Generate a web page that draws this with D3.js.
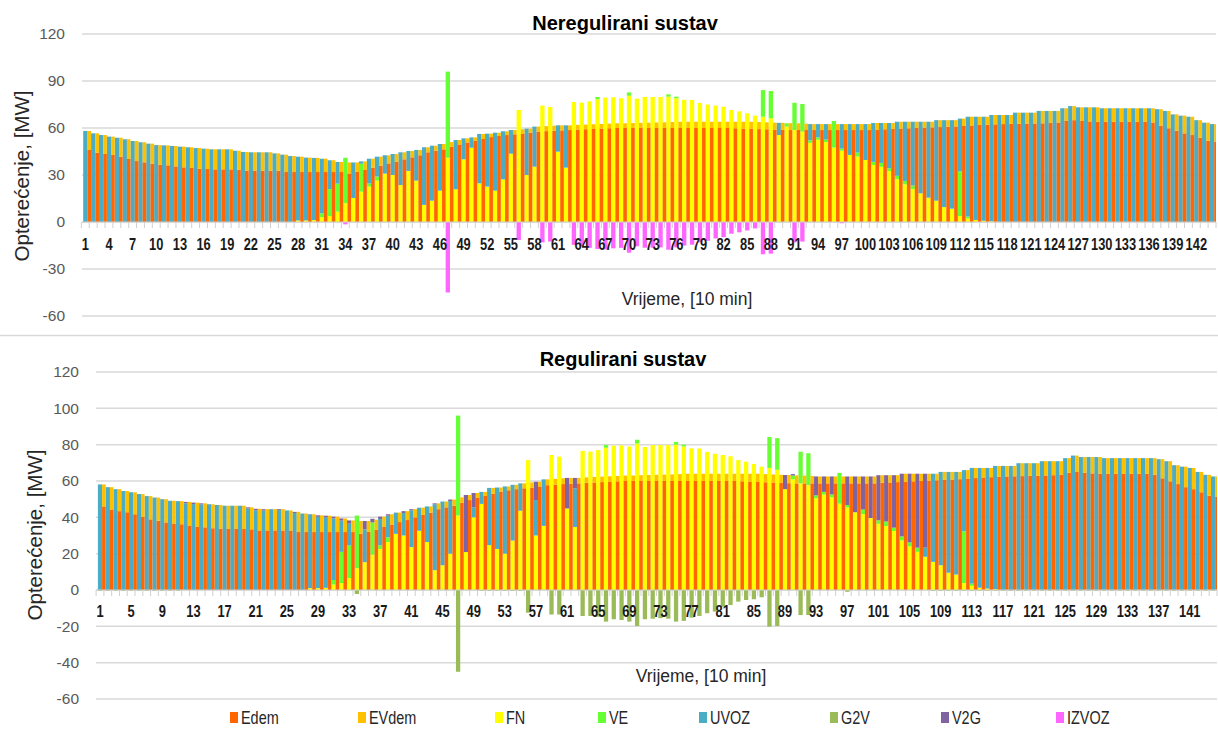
<!DOCTYPE html>
<html><head><meta charset="utf-8">
<script src="https://cdn.jsdelivr.net/npm/d3@7"></script>
<style>body{margin:0;background:#fff}svg{display:block}</style>
</head><body>
<svg id="c" width="1218" height="731"></svg>
<script>
const categories = d3.range(1, 145);
const topTickLabels = [1,4,7,10,13,16,19,22,25,28,31,34,37,40,43,46,49,52,55,58,61,64,67,70,73,76,79,82,85,88,91,94,97,100,103,106,109,112,115,118,121,124,127,130,133,136,139,142];
const botTickLabels = [1,5,9,13,17,21,25,29,33,37,41,45,49,53,57,61,65,69,73,77,81,85,89,93,97,101,105,109,113,117,121,125,129,133,137,141];
const topYTicks = [-60,-30,0,30,60,90,120];
const botYTicks = [-60,-40,-20,0,20,40,60,80,100,120];

const Edem = [46,44.3,43.4,42.8,41.7,40.2,38.9,38.1,37.2,36.6,
 36.2,35.5,34.9,34.5,34,33.8,33.6,33.6,33.6,33.4,
 32.8,32.8,32.8,32.8,32.8,31.9,31.9,31.9,31.9,31.9,
 31.9,31.9,31.9,31,32,33.2,34.7,36,37.4,38.5,
 40,41.3,42.6,44.5,45.5,46.4,48,49.5,50.8,51.8,
 53,54.2,54.9,55.5,56,56.2,57,57.7,58,58.3,
 58.5,58.7,59,59.2,59.4,59.6,59.8,60,60,60,
 60,60,60,60,60,60,60,60,60,60,
 60,60,59.8,59.6,59.5,59.3,59.2,59,58.8,58.7,
 58.7,58.7,58.7,58.7,58.7,58.7,58.7,58.7,58.7,58.7,
 59,59.2,59.4,59.6,59.8,60,60.2,60.4,60.6,60.8,
 61,61.3,61.6,61.9,62.1,62.3,62.5,62.6,62.7,62.8,
 62.9,63,63.2,63.5,64.5,65,64.5,64.2,64,64,
 64,64,64,64,64,63.5,61.5,59.8,58.3,56.6,
 55.5,53.8,51.9,51.3];
const EVdem = [12.1,12.3,12.1,11.7,12.1,12.6,12.8,12.8,12.8,12.5,
 12.7,13,13.2,13.2,13.2,13,12.8,12.8,12.8,12.1,
 11.9,11.7,11.7,11.7,11,11.1,10.2,9.8,9.2,9,
 8.5,7.5,6.4,7,6,5.5,5.7,5.7,5.2,4.9,
 4.5,4,3.4,3.2,3.2,3.4,3,2.8,2.6,2.2,
 3.2,2.2,2.1,2.4,2.7,3,2.6,3.2,3.2,3.2,
 3.2,3,3,3,3,3,3,3,3,3.2,
 3.3,3.4,3.5,3.6,3.8,4,4,4,4,4,
 4,4,4.2,4.4,4.5,4.5,4.4,4.4,4.5,4.4,
 4.3,4.1,3.8,3.8,3.8,3.8,3.8,3.8,3.8,3.8,
 4.2,4,3.8,4.4,4.2,4,3.8,3.6,4.4,4.2,
 4,4.7,5.6,5.3,5.1,6,5.8,5.7,7.1,7,
 6.9,7.9,7.7,7.4,8.1,9,8.7,9,9.2,8.6,
 8.6,8.6,8.6,8.6,8.6,9.1,10.5,11.1,10.4,11.3,
 11.7,11.2,11.5,11.2];
const FN = [0,0,0,0,0,0,0,0,0,0,
 0,0,0,0,0,0,0,0,0,0,
 0,0,0,0,0,0,0,1,1,1.2,
 3,3.8,6.6,12,15.3,19.4,22.6,26.4,30.9,30,
 23.6,32.6,26.4,10.9,13.6,20,41,20.9,40,47.4,
 24.7,22.6,20,27.2,43.6,71.5,30,35.3,74.3,73.4,
 44.9,34.7,76.6,76.2,77,78.3,79.4,79.6,79,80.6,
 78.7,79.8,79.8,79.8,80,79,78,77.9,76,75,
 74.3,73.6,71.5,70.6,69.4,67.9,67.2,66.2,55.5,60.9,
 58.7,57.7,50.5,52.5,51,47.5,45.5,42.8,41.8,39.6,
 36.4,35.2,32.5,27.3,24,21,18.3,15.5,13.6,9.5,
 8.5,3.8,2.3,1.3,0.8,0.5,0,0,0,0,
 0,0,0,0,0,0,0,0,0,0,
 0,0,0,0,0,0,0,0,0,0,
 0,0,0,0];
const VE = [0,0,0,0,0,0,0,0,0,0,
 0,0,0,0,0,0,0,0,0,0,
 0,0,0,0,0,0,0,0,0,0,
 2.5,17.2,17.9,29,0,17.8,2,2.6,0,0,
 0,0,0,0,0,0,55,0,0,0,
 0,0,0,0,0,0,0,0,0,0,
 0,0,0,0,0,1.5,0,0,0,2.1,
 0,0,0,0,1.5,1,0,0,0,0,
 0,0,0,0,0,0,17,17.4,0,2.1,
 17.4,17.6,1.6,1.5,1.6,17,1.3,0,2.5,0,
 2,2.5,1.8,2.2,2.2,2.3,0,0,0,0,
 0,28.5,1.2,0,0,0,0,0,0,0,
 0,0,0,0,0,0,0,0,0,0,
 0,0,0,0,0,0,0,0,0,0,
 0,0,0,0];
const UVOZ_nereg = [58.1,56.6,55.5,54.5,53.8,52.8,51.7,50.9,50,49.1,
 48.9,48.5,48.1,47.7,47.2,46.8,46.4,46.4,46.4,45.5,
 44.7,44.5,44.5,44.5,43.8,43,42.1,40.7,40.1,39.7,
 34.9,18.4,13.8,0,22.7,1.5,15.8,12.7,11.7,13.4,
 20.9,12.7,19.6,36.8,35.1,29.8,0,31.4,13.4,6.6,
 31.5,33.8,37,30.7,15.1,0,29.6,25.6,0,0,
 16.8,27,0,0,0,0,0,0,0,0,
 0,0,0,0,0,0,0,0,0,0,
 0,0,0,0,0,0,0,0,7.8,0,
 0,0,10.4,8.5,9.9,0,15.7,19.7,18.2,22.9,
 24.8,25.5,28.9,34.5,37.8,40.7,45.7,48.5,51.4,55.5,
 56.5,33.7,63.7,65.9,66.4,67.8,68.3,68.3,69.8,69.8,
 69.8,70.9,70.9,70.9,72.6,74,73.2,73.2,73.2,72.6,
 72.6,72.6,72.6,72.6,72.6,72.6,72,70.9,68.7,67.9,
 67.2,65,63.4,62.5];
const IZVOZ_nereg = [0,0,0,0,0,0,0,0,0,0,
 0,0,0,0,0,0,0,0,0,0,
 0,0,0,0,0,0,0,0,0,0,
 0,0,0,-1.5,0,0,0,0,0,0,
 0,0,0,0,0,0,-45,0,0,0,
 0,0,0,0,0,-11.5,0,0,-13,-12.5,
 0,0,-14.6,-15.5,-16.5,-17.2,-17.5,-16.8,-16.5,-19.6,
 -15.5,-16.4,-16.4,-16.2,-17.7,-16.2,-15,-14.5,-13,-12,
 -10.5,-9.7,-7.5,-6.6,-5.4,-4.1,-20.6,-20.2,0,0,
 -13,-12.5,0,0,0,0,-0.8,0,0,0,
 0,0,0,0,0,0,0,0,0,0,
 0,0,0,0,0,0,0,0,0,0,
 0,0,0,0,0,0,0,0,0,0,
 0,0,0,0,0,0,0,0,0,0,
 0,0,0,0];
const UVOZ_reg = [58.1,56.6,55.5,54.5,53.8,52.8,51.7,50.9,50,49.1,
 48.9,47.7,47.3,47.1,47.2,46.8,46.4,46.4,46.4,44.9,
 43.9,43.7,44.5,44,43.8,42.4,42.1,40.7,39.3,38.9,
 33.9,17.2,12,0,18.1,0,14.5,11.9,11.7,12.4,
 20.3,12.7,19.6,36.3,35.1,29,0,0,5.6,6.6,
 31.5,33.8,37,30.7,15.1,0,19.5,25.6,0,0,
 0,21.3,0,0,0,0,0,0,0,0,
 0,0,0,0,0,0,0,0,0,0,
 0,0,0,0,0,0,0,0,0,0,
 0,0,0,0,0,0,0,0,0,0,
 0,0,0,0,0,0,5,48.5,51.4,55.5,
 56.5,33.7,63.7,65.9,66.4,67.8,68.3,68.3,69.8,69.8,
 69.8,70.9,70.9,70.9,72.6,74,73.2,73.2,73.2,72.6,
 72.6,72.6,72.6,72.6,72.6,72.6,72,70.9,68.7,67.9,
 67.2,65,63.4,62.5];
const V2G_reg = [0,0,0,0,0,0,0,0,0,0,
 0,0.8,0.8,0.6,0,0,0,0,0,0.6,
 0.8,0.8,0,0.5,0,0.6,0,0,0.8,0.8,
 1,1.2,1.8,0,4.6,2,1.3,0.8,0,1,
 0.6,0,0,0.5,0,0.8,0,31.4,7.8,0,
 0,0,0,0,0,0,10.1,0,0,0,
 16.8,5.7,0,0,0,0,0,0,0,0,
 0,0,0,0,0,0,0,0,0,0,
 0,0,0,0,0,0,0,0,7.8,0.8,
 0,0,10.4,8.5,9.9,0,15.7,19.7,18.2,22.9,
 24.8,25.5,28.9,34.5,37.8,40.7,40.7,0,0,0,
 0,0,0,0,0,0,0,0,0,0,
 0,0,0,0,0,0,0,0,0,0,
 0,0,0,0,0,0,0,0,0,0,
 0,0,0,0];
const G2V_reg = [-0.4,-0.4,-0.4,-0.4,-0.4,-0.4,-0.4,-0.4,-0.4,-0.4,
 -0.4,0,0,0,0,0,0,0,0,0,
 0,0,0,0,0,0,0,0,0,0,
 0,0,0,-2.2,0,0,0,0,0,0,
 0,0,0,0,0,0,-45,0,0,-0.4,
 -0.4,-0.4,-0.4,-0.4,-0.4,-12.5,0,0,-13.5,-13.5,
 0,0,-14.3,-14.3,-14.7,-17.4,-16.1,-16.5,-17.4,-19.8,
 -16.1,-15.8,-15.5,-15.8,-17.4,-17,-15.2,-14.3,-12.8,-11.9,
 -9.2,-8.3,-6.4,-5.5,-5.1,-4,-20.2,-19.8,0,0,
 -13.8,-13.8,0,0,0,0,-1,0,0,0,
 0,0,0,0,0,0,0,-0.4,-0.4,-0.4,
 -0.4,-0.4,-0.4,-0.4,-0.4,-0.4,-0.4,-0.4,-0.4,-0.4,
 -0.4,-0.4,-0.4,-0.4,-0.4,-0.4,-0.4,-0.4,-0.4,-0.4,
 -0.4,-0.4,-0.4,-0.4,-0.4,-0.4,-0.4,-0.4,-0.4,-0.4,
 -0.4,-0.4,-0.4,-0.4];

const seriesNames = ["Edem","EVdem","FN","VE","UVOZ","G2V","V2G","IZVOZ"];
const colors = {Edem:"#FF6600",EVdem:"#FFC000",FN:"#FFFF00",VE:"#66FF33",UVOZ:"#4BACC6",G2V:"#9BBB59",V2G:"#8064A2",IZVOZ:"#FF66FF"};

const svg = d3.select("#c");
const FONT = "'Liberation Sans', Arial, sans-serif";

svg.append("line").attr("x1",0).attr("x2",1218).attr("y1",335.5).attr("y2",335.5).attr("stroke","#d9d9d9").attr("stroke-width",1.5);

function panel(cfg, idx) {
  const g = svg.append("g");
  const x = d3.scaleBand().domain(categories).range([cfg.x0, cfg.x1]).padding(0);
  const y = d3.scaleLinear().domain([-60,120]).range([cfg.yB, cfg.yT]);
  const bw = x.bandwidth();

  g.selectAll("line.grid").data(cfg.yTicks).join("line")
    .attr("x1", cfg.gx0).attr("x2", cfg.x1).attr("y1", d=>y(d)).attr("y2", d=>y(d))
    .attr("stroke","#d9d9d9").attr("stroke-width",1.5);
  g.selectAll("text.yt").data(cfg.yTicks).join("text")
    .attr("x", cfg.labelX).attr("y", d=>y(d)).attr("dy","0.35em")
    .attr("text-anchor","end").attr("font-family",FONT).attr("font-size",15.5)
    .attr("fill","#595959").text(d=>d);

  const clipId = "clip"+idx;
  g.append("clipPath").attr("id",clipId).append("rect")
    .attr("x",cfg.x0).attr("y",0).attr("width",cfg.x1-cfg.x0).attr("height",731);
  const bars = g.append("g").attr("clip-path",`url(#${clipId})`);

  const rows = categories.map((c,i)=>({cat:c, FN:FN[i], VE:VE[i], UVOZ:cfg.uvoz[i],
     V2G: cfg.v2g ? cfg.v2g[i] : 0, NEG: cfg.neg[i], Edem:Edem[i], EVdem:cfg.evdem[i]}));
  const supplyKeys = cfg.v2g ? ["FN","VE","UVOZ","V2G"] : ["FN","VE","UVOZ"];
  const supply = d3.stack().keys(supplyKeys)(rows);
  const demand = d3.stack().keys(["Edem","EVdem"])(rows);

  supply.forEach(s=>{
    bars.append("g").attr("fill",colors[s.key]).selectAll("rect").data(s).join("rect")
      .attr("x", d=>x(d.data.cat)+bw*0.23).attr("width", bw*0.55)
      .attr("y", d=>y(d[1])).attr("height", d=>Math.max(0,y(d[0])-y(d[1])));
  });
  bars.append("g").attr("fill",colors[cfg.negKey]).selectAll("rect").data(rows).join("rect")
    .attr("x", d=>x(d.cat)+bw*0.23).attr("width", bw*0.55)
    .attr("y", y(0)).attr("height", d=>Math.max(0,y(d.NEG)-y(0)));
  demand.forEach(s=>{
    bars.append("g").attr("fill",colors[s.key]).selectAll("rect").data(s).join("rect")
      .attr("x", d=>x(d.data.cat)+bw*0.77).attr("width", bw*0.46)
      .attr("y", d=>y(d[1])).attr("height", d=>Math.max(0,y(d[0])-y(d[1])));
  });

  const y0 = y(0);
  g.append("line").attr("x1",cfg.gx0).attr("x2",cfg.x1).attr("y1",y0).attr("y2",y0)
    .attr("stroke","#d0d0d0").attr("stroke-width",1.2);
  g.selectAll("line.tk").data(categories.concat([145])).join("line")
    .attr("x1", d=> d===145 ? cfg.x1 : x(d)).attr("x2", d=> d===145 ? cfg.x1 : x(d))
    .attr("y1", y0).attr("y2", y0+6).attr("stroke","#d0d0d0").attr("stroke-width",1);
  g.selectAll("text.xt").data(cfg.xLabels).join("text")
    .attr("transform", d=>`translate(${x(d)+bw/2},${cfg.xLabelY}) scale(0.78,1)`)
    .attr("dy","0.35em")
    .attr("text-anchor","middle").attr("font-family",FONT).attr("font-weight","bold")
    .attr("font-size",16.5).attr("fill","#1a1a1a").text(d=>d);

  g.append("text").attr("x",cfg.titleX).attr("y",cfg.titleY).attr("dy","0.35em")
    .attr("text-anchor","middle").attr("font-family",FONT).attr("font-weight","bold")
    .attr("font-size",20).attr("fill","#000").text(cfg.title);
  g.append("text").attr("x",cfg.xtX).attr("y",cfg.xtY).attr("dy","0.35em")
    .attr("text-anchor","middle").attr("font-family",FONT).attr("font-size",17.5)
    .attr("fill","#262626").text("Vrijeme, [10 min]");
  g.append("text").attr("transform",`translate(${cfg.ytX},${cfg.ytY}) rotate(-90)`)
    .attr("dy","0.35em").attr("text-anchor","middle").attr("font-family",FONT)
    .attr("font-size",20.5).attr("fill","#262626").text("Opterećenje, [MW]");
}

panel({x0:81.4, x1:1216, gx0:82, yT:34, yB:316, yTicks:topYTicks, labelX:65,
  xLabels:topTickLabels, xLabelY:244, uvoz:UVOZ_nereg, v2g:null, neg:IZVOZ_nereg, negKey:"IZVOZ",
  evdem:EVdem, title:"Neregulirani sustav", titleX:625, titleY:23, xtX:687, xtY:299, ytX:21.5, ytY:176}, 0);
panel({x0:96.1, x1:1217, gx0:96, yT:372, yB:699, yTicks:botYTicks, labelX:79,
  xLabels:botTickLabels, xLabelY:611, uvoz:UVOZ_reg, v2g:V2G_reg, neg:G2V_reg, negKey:"G2V",
  evdem:EVdem, title:"Regulirani sustav", titleX:623, titleY:359, xtX:701, xtY:676, ytX:35, ytY:535}, 1);

const legendX = [230,358,495,598,699,830,941,1056];
const lg = svg.append("g");
seriesNames.forEach((n,i)=>{
  lg.append("rect").attr("x",legendX[i]).attr("y",712).attr("width",8).attr("height",11).attr("fill",colors[n]);
  lg.append("text").attr("transform",`translate(${legendX[i]+11},718) scale(0.78,1)`).attr("dy","0.35em")
    .attr("font-family",FONT).attr("font-size",18.5).attr("fill","#262626").text(n);
});
</script>
</body></html>
